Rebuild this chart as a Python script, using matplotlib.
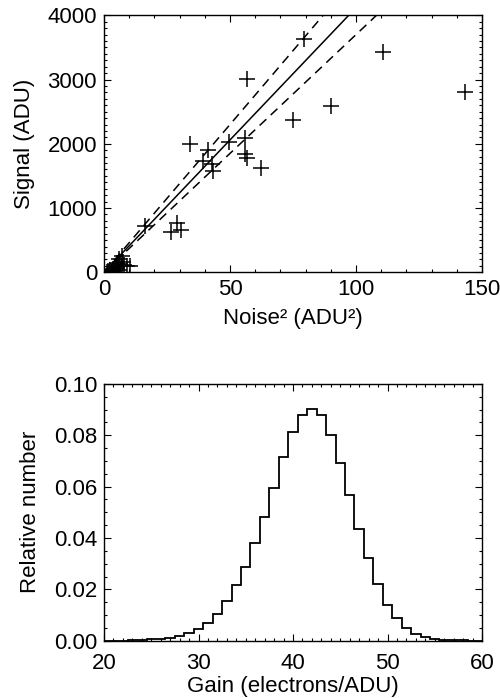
"""
Gain from photon transfer: signal vs noise^2 and the gain histogram
"""

import matplotlib
matplotlib.use('Agg')
import matplotlib.pyplot as plt
import numpy as np
from matplotlib.ticker import MultipleLocator, FixedLocator

plt.rcParams['font.family'] = ['Liberation Sans', 'DejaVu Sans']
plt.rcParams['font.size'] = 16

# photon transfer points
noise2 = [79.4, 110.6, 143.3, 56.6, 90.1, 75.1, 34.0, 41.4, 49.5, 56.1,
          39.4, 42.7, 43.4, 56.1, 56.7, 62.2, 16.3, 26.6, 28.8, 30.4,
          1.0, 1.5, 2.0, 2.5, 3.0, 3.5, 4.0, 4.5, 5.0, 5.0,
          5.5, 6.0, 6.0, 6.5, 7.0, 7.0, 7.5, 8.0, 9.0, 10.5]
signal = [3630, 3430, 2800, 3010, 2590, 2365, 1990, 1905, 2025, 2090,
          1730, 1690, 1575, 1840, 1785, 1625, 712, 634, 765, 661,
          0, 20, 10, 40, 0, 50, 20, 80, 60, 150,
          100, 40, 200, 130, 90, 250, 160, 110, 100, 100]

# fitted gain and its bounds (ADU per ADU^2)
gain_fit = 41.2
gain_bounds = [46.0, 37.0]

# gain histogram, one bin per electron/ADU
gain_centers = list(range(20, 61))
rel_number = [0.0000, 0.0001, 0.0001, 0.0002, 0.0003, 0.0005, 0.0007, 0.0011,
              0.0019, 0.0032, 0.0047, 0.0069, 0.0104, 0.0153, 0.0218, 0.0289,
              0.0380, 0.0481, 0.0594, 0.0717, 0.0811, 0.0877, 0.0902, 0.0879,
              0.0802, 0.0694, 0.0568, 0.0435, 0.0322, 0.0221, 0.0140, 0.0088,
              0.0049, 0.0027, 0.0014, 0.0008, 0.0004, 0.0003, 0.0002, 0.0001,
              0.0000]


def style_axes(ax, xpad):
    for s in ax.spines.values():
        s.set_linewidth(1.0)
    ax.tick_params(which='both', direction='in', top=True, right=True,
                   width=0.8)
    ax.tick_params(which='major', length=5, pad=5)
    ax.tick_params(which='minor', length=2.5)
    ax.tick_params(axis='x', which='major', pad=xpad)


fig = plt.figure(figsize=(5, 6.98), dpi=100)

# top panel
ax1 = fig.add_axes([0.208, 0.610, 0.756, 0.368])
ax1.plot(noise2, signal, linestyle='none', marker='+', markersize=12,
         markeredgewidth=1.1, color='black')
xx = np.array([0, 150])
ax1.plot(xx, gain_fit * xx, color='black', lw=1.1)
for g in gain_bounds:
    ax1.plot(xx, g * xx, color='black', lw=1.1, dashes=(6, 4))
ax1.set_xlim(0, 150)
ax1.set_ylim(0, 4000)
ax1.xaxis.set_major_locator(MultipleLocator(50))
ax1.xaxis.set_minor_locator(MultipleLocator(10))
ax1.yaxis.set_major_locator(MultipleLocator(1000))
ax1.yaxis.set_minor_locator(MultipleLocator(100))
ax1.set_xlabel('Noise² (ADU²)', labelpad=6)
ax1.set_ylabel('Signal (ADU)', labelpad=9)
style_axes(ax1, 5)

# bottom panel
ax2 = fig.add_axes([0.208, 0.082, 0.756, 0.368])
centers = np.array(gain_centers)
edges = np.append(centers - 0.5, centers[-1] + 0.5)
ax2.stairs(rel_number, edges, baseline=None, color='black', lw=1.3)
ax2.set_xlim(20, 60)
ax2.set_ylim(0, 0.10)
ax2.xaxis.set_major_locator(MultipleLocator(10))
ax2.xaxis.set_minor_locator(MultipleLocator(1))
ax2.yaxis.set_major_locator(FixedLocator([0, 0.02, 0.04, 0.06, 0.08, 0.10]))
ax2.yaxis.set_minor_locator(MultipleLocator(0.005))
ax2.yaxis.set_major_formatter(plt.FuncFormatter(lambda v, p: '%.2f' % v))
ax2.set_xlabel('Gain (electrons/ADU)', labelpad=1)
ax2.set_ylabel('Relative number', labelpad=9)
style_axes(ax2, 9)

fig.savefig('out.png', dpi=100)
